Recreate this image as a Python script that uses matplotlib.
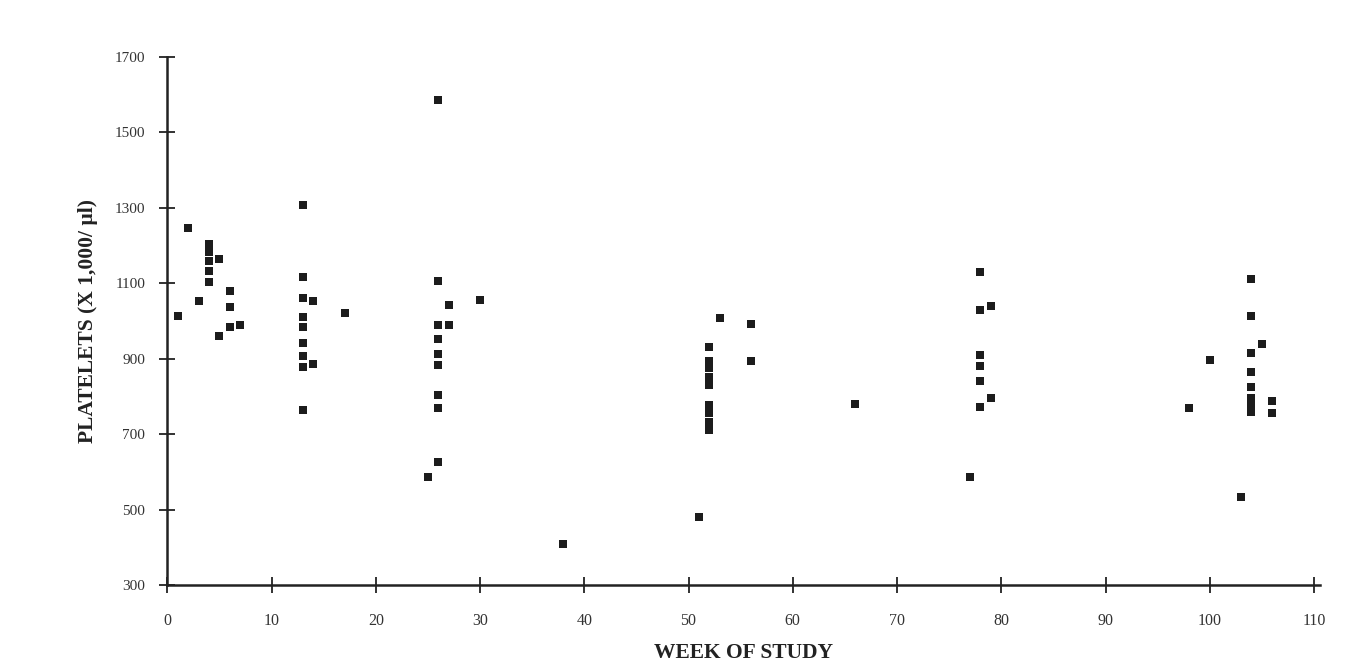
import matplotlib
matplotlib.use("Agg")
import matplotlib.pyplot as plt

# data (week, platelets x1000/ul)
weeks = [1, 2, 3, 4, 4, 4, 4, 4, 5, 5, 6, 6, 6, 7,
         13, 13, 13, 13, 13, 13, 13, 13, 13, 14, 14, 17,
         25, 26, 26, 26, 26, 26, 26, 26, 26, 26, 27, 27, 30,
         38, 51, 52, 52, 52, 52, 52, 52, 52, 52, 52, 53, 56, 56,
         66, 77, 78, 78, 78, 78, 78, 78, 79, 79,
         98, 100, 103, 104, 104, 104, 104, 104, 104, 104, 104, 105, 106, 106]
platelets = [1013, 1248, 1053, 1205, 1184, 1158, 1133, 1103, 1165, 960, 1081, 1038, 983, 990,
             1308, 1118, 1062, 1010, 983, 941, 907, 879, 764, 1053, 886, 1021,
             587, 1586, 1107, 990, 952, 913, 884, 804, 769, 627, 1043, 990, 1056,
             408, 481, 932, 895, 875, 852, 830, 777, 755, 732, 711, 1007, 991, 894,
             779, 587, 1131, 1029, 910, 881, 841, 773, 1040, 795,
             769, 897, 534, 1111, 1014, 916, 866, 826, 795, 775, 758, 938, 788, 757]

x_ticks = list(range(0, 111, 10))
y_ticks = list(range(300, 1701, 200))

serif = ["Liberation Serif", "DejaVu Serif"]

fig = plt.figure(figsize=(13.66, 6.71), dpi=100)
ax = fig.add_axes([0.1225, 0.128, 0.844, 0.787])

ax.scatter(weeks, platelets, marker="s", s=30, color="#1c1c1c", linewidths=0, zorder=3)

ax.set_xlim(0, 110.6)
ax.set_ylim(300, 1700)
ax.set_xticks(x_ticks)
ax.set_yticks(y_ticks)
ax.tick_params(direction="inout", length=12, width=1.3, color="#222222",
               labelcolor="#333333")
ax.tick_params(axis="y", pad=10, labelsize=11)
ax.tick_params(axis="x", pad=14, labelsize=11.5)
for lab in ax.get_xticklabels() + ax.get_yticklabels():
    lab.set_family(serif)

for side in ["top", "right"]:
    ax.spines[side].set_visible(False)
for side in ["left", "bottom"]:
    ax.spines[side].set_linewidth(1.8)
    ax.spines[side].set_color("#222222")

ax.set_xlabel("WEEK OF STUDY", family=serif, fontweight="bold", fontsize=15.5,
              color="#222222", labelpad=10)
ax.set_ylabel("PLATELETS (X 1,000/ \u00b5l)", family=serif, fontweight="bold",
              fontsize=15.5, color="#222222", labelpad=12)

fig.savefig("out.png", dpi=100)
